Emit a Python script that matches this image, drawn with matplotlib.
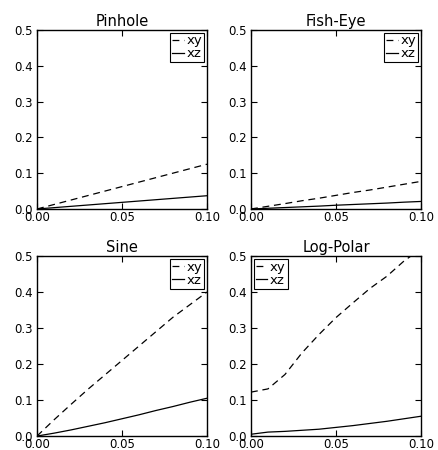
import matplotlib
matplotlib.use("Agg")
import matplotlib.pyplot as plt

# === Data ===
x = [0.00, 0.01, 0.02, 0.03, 0.04, 0.05, 0.06, 0.07, 0.08, 0.09, 0.10]

titles = ["Pinhole", "Fish-Eye", "Sine", "Log-Polar"]

pinhole_xy = [0.0, 0.0125, 0.025, 0.0375, 0.050, 0.0625, 0.075, 0.0875, 0.100, 0.1125, 0.125]
pinhole_xz = [0.0, 0.0037, 0.0074, 0.0111, 0.0148, 0.0185, 0.0222, 0.0259, 0.0296, 0.0333, 0.037]

fisheye_xy = [0.0, 0.0075, 0.015, 0.023, 0.030, 0.038, 0.046, 0.053, 0.061, 0.069, 0.077]
fisheye_xz = [0.0, 0.002, 0.004, 0.006, 0.008, 0.0105, 0.0125, 0.0145, 0.0165, 0.019, 0.021]

sine_xy = [0.0, 0.045, 0.088, 0.130, 0.170, 0.210, 0.250, 0.290, 0.330, 0.365, 0.400]
sine_xz = [0.0, 0.008, 0.017, 0.027, 0.037, 0.048, 0.059, 0.071, 0.082, 0.094, 0.105]

logpolar_xy = [0.122, 0.131, 0.171, 0.231, 0.282, 0.329, 0.370, 0.410, 0.444, 0.486, 0.520]
logpolar_xz = [0.005, 0.011, 0.013, 0.016, 0.019, 0.024, 0.029, 0.035, 0.041, 0.048, 0.055]

series = [
    (pinhole_xy, pinhole_xz),
    (fisheye_xy, fisheye_xz),
    (sine_xy, sine_xz),
    (logpolar_xy, logpolar_xz),
]
legend_loc = ["upper right", "upper right", "upper right", "upper left"]

xticks = [0.00, 0.05, 0.10]
xticklabels = ["0.00", "0.05", "0.10"]
yticks = [0.0, 0.1, 0.2, 0.3, 0.4, 0.5]
yticklabels = ["0.0", "0.1", "0.2", "0.3", "0.4", "0.5"]

# === Plotting ===
fig = plt.figure(figsize=(4.38, 4.5), dpi=100)

# axes rectangles [left, bottom, width, height] in figure fractions
rects = [
    [0.0845, 0.5356, 0.388, 0.398],
    [0.5730, 0.5356, 0.388, 0.398],
    [0.0845, 0.0310, 0.388, 0.400],
    [0.5730, 0.0310, 0.388, 0.400],
]

for i in range(4):
    ax = fig.add_axes(rects[i])
    xy, xz = series[i]
    ax.plot(x, xy, color="black", linewidth=0.9, dashes=(5.5, 3.8), label="xy")
    ax.plot(x, xz, color="black", linewidth=0.9, label="xz")
    ax.set_xlim(0, 0.1)
    ax.set_ylim(0, 0.5)
    ax.set_xticks(xticks)
    ax.set_xticklabels(xticklabels)
    ax.set_yticks(yticks)
    ax.set_yticklabels(yticklabels)
    ax.tick_params(direction="in", top=True, right=True, length=4, width=0.8,
                   labelsize=8.5)
    ax.tick_params(axis="x", pad=1.5)
    ax.tick_params(axis="y", pad=3)
    for sp in ax.spines.values():
        sp.set_linewidth(1.0)
    ax.set_title(titles[i], fontsize=10.5, pad=3)
    leg = ax.legend(loc=legend_loc[i], fontsize=9.5, handlelength=0.9,
                    handletextpad=0.2, borderpad=0.15, labelspacing=0.0,
                    borderaxespad=0.2, fancybox=False, framealpha=1)
    leg.get_frame().set_edgecolor("black")
    leg.get_frame().set_linewidth(0.8)

fig.savefig("out.png", dpi=100)
